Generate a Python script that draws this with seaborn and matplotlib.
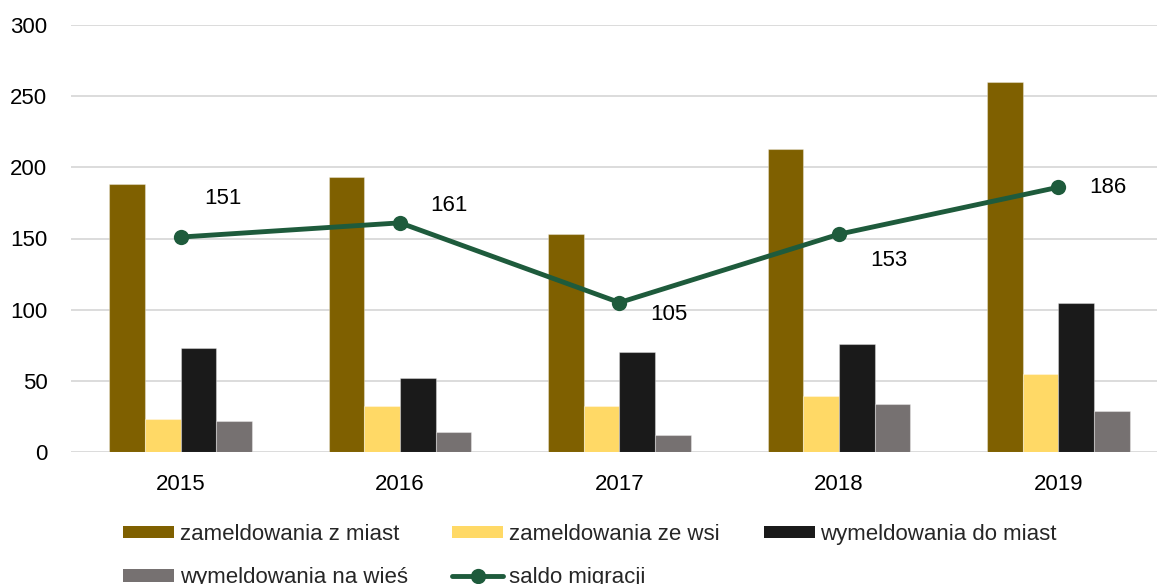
import numpy as np
import pandas as pd
import matplotlib
matplotlib.use("Agg")
import matplotlib.pyplot as plt
from matplotlib.patches import Patch
from matplotlib.lines import Line2D
import seaborn as sns

# Migration data by year
years = ["2015", "2016", "2017", "2018", "2019"]
zameld_z_miast = [188, 193, 153, 213, 260]
zameld_ze_wsi = [23, 32, 32, 39, 55]
wymeld_do_miast = [73, 52, 70, 76, 105]
wymeld_na_wies = [22, 14, 12, 34, 29]
saldo = [151, 161, 105, 153, 186]

series_names = [
    "zameldowania z miast",
    "zameldowania ze wsi",
    "wymeldowania do miast",
    "wymeldowania na wieś",
]
line_name = "saldo migracji"
colors = ["#7F6000", "#FFD966", "#1A1A1A", "#767171"]
line_color = "#1E5B3C"
FS = 16

sns.set_theme(style="white")
plt.rcParams["font.family"] = ["Liberation Sans", "DejaVu Sans"]

df = pd.DataFrame({
    "rok": years * 4,
    "seria": np.repeat(series_names, len(years)),
    "wartosc": zameld_z_miast + zameld_ze_wsi + wymeld_do_miast + wymeld_na_wies,
})

fig = plt.figure(figsize=(11.57, 5.84), dpi=100)
ax = fig.add_axes([71 / 1157, 1 - 452 / 584, 1 - 71 / 1157, (452 - 25) / 584])

sns.barplot(data=df, x="rok", y="wartosc", hue="seria", order=years,
            hue_order=series_names, palette=colors, width=0.65, gap=0,
            saturation=1, linewidth=0.8, edgecolor=(1, 1, 1, 0.35),
            legend=False, ax=ax, zorder=2)

xs = np.arange(len(years))
sns.lineplot(x=xs, y=saldo, color=line_color, linewidth=3.5, marker="o",
             markersize=11, markeredgewidth=0, legend=False, ax=ax, zorder=4)

# Value labels for the migration balance
offsets = [(42, 39), (49, 17), (49, -12), (50, -26), (50, 0)]
for x, v, (dx, dy) in zip(xs, saldo, offsets):
    ax.annotate(str(v), (x, v), xytext=(dx * 0.72, dy * 0.72),
                textcoords="offset points", ha="center", va="center",
                fontsize=FS, color="#000000")

ax.set_ylim(0, 300)
ax.set_yticks(np.arange(0, 301, 50))
ax.set_xlim(-0.5, 4.45)
ax.grid(axis="y", color="#D9D9D9", linewidth=1.3, zorder=0)
ax.set_axisbelow(True)
for s in ax.spines.values():
    s.set_visible(False)
ax.set_xlabel("")
ax.set_ylabel("")
ax.tick_params(axis="both", length=0, labelsize=FS, colors="#000000")
ax.tick_params(axis="x", pad=15.5)
ax.tick_params(axis="y", pad=17)

handles = [Patch(facecolor=c, edgecolor="none") for c in colors]
handles.append(Line2D([0], [0], color=line_color, linewidth=3.5, marker="o",
                      markersize=11, markeredgewidth=0))
labels = series_names + [line_name]
order = [0, 3, 1, 4, 2]
fig.legend([handles[i] for i in order], [labels[i] for i in order],
           loc="upper left", bbox_to_anchor=(123 / 1157, 1 - 524 / 584),
           ncol=3, frameon=False, fontsize=FS, handlelength=2.3,
           handleheight=0.5, handletextpad=0.25, columnspacing=2.0,
           labelspacing=1.0, borderpad=0, borderaxespad=0)

fig.savefig("out.png", dpi=100)
